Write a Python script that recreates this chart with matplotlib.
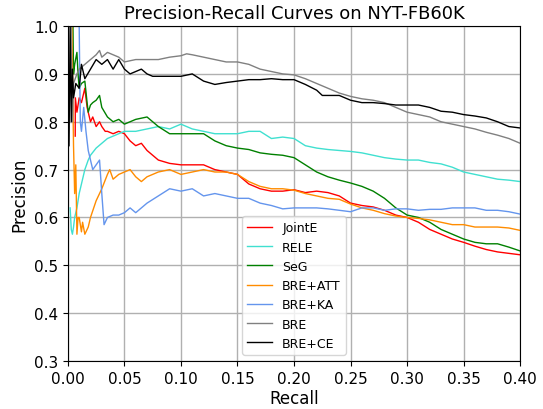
import matplotlib
matplotlib.use('Agg')
import matplotlib.pyplot as plt

# Valores (recall, precision)
recall_jointe = [0.0065, 0.0066, 0.008, 0.010, 0.012, 0.015, 0.017, 0.018, 0.020, 0.022, 0.025, 0.028, 0.030,
                 0.033, 0.035, 0.040, 0.045, 0.050, 0.055, 0.060, 0.065, 0.070, 0.075, 0.080, 0.090, 0.100,
                 0.110, 0.120, 0.130, 0.140, 0.150, 0.160, 0.170, 0.180, 0.190, 0.200, 0.210, 0.220, 0.230,
                 0.240, 0.250, 0.260, 0.270, 0.280, 0.290, 0.300, 0.310, 0.320, 0.330, 0.340, 0.350, 0.360,
                 0.370, 0.380, 0.390, 0.400]
prec_jointe = [0.77, 0.85, 0.82, 0.85, 0.84, 0.87, 0.83, 0.82, 0.80, 0.81, 0.79, 0.80, 0.79,
               0.78, 0.78, 0.775, 0.78, 0.775, 0.76, 0.75, 0.755, 0.74, 0.73, 0.72, 0.713, 0.71,
               0.71, 0.71, 0.70, 0.695, 0.69, 0.67, 0.66, 0.655, 0.655, 0.658, 0.652, 0.655, 0.652,
               0.645, 0.63, 0.625, 0.622, 0.615, 0.605, 0.60, 0.59, 0.575, 0.565, 0.555, 0.548, 0.54,
               0.533, 0.528, 0.525, 0.522]

recall_rele = [0.002, 0.003, 0.004, 0.005, 0.006, 0.008, 0.010, 0.012, 0.015, 0.018, 0.020, 0.025, 0.030,
               0.035, 0.040, 0.045, 0.050, 0.060, 0.070, 0.080, 0.090, 0.100, 0.110, 0.120, 0.130, 0.140,
               0.150, 0.160, 0.170, 0.180, 0.190, 0.200, 0.210, 0.220, 0.230, 0.240, 0.250, 0.260, 0.270,
               0.280, 0.290, 0.300, 0.310, 0.320, 0.330, 0.340, 0.350, 0.360, 0.370, 0.380, 0.390, 0.400]
prec_rele = [0.62, 0.575, 0.565, 0.58, 0.60, 0.62, 0.65, 0.67, 0.70, 0.72, 0.73, 0.745, 0.755,
             0.765, 0.77, 0.775, 0.78, 0.78, 0.785, 0.79, 0.785, 0.795, 0.785, 0.78, 0.775, 0.775,
             0.775, 0.78, 0.78, 0.765, 0.768, 0.765, 0.75, 0.745, 0.742, 0.74, 0.738, 0.735, 0.73,
             0.725, 0.722, 0.72, 0.72, 0.715, 0.712, 0.705, 0.695, 0.69, 0.685, 0.68, 0.678, 0.675]

recall_seg = [0.0045, 0.005, 0.006, 0.008, 0.009, 0.010, 0.012, 0.015, 0.017, 0.018, 0.020, 0.022, 0.025,
              0.028, 0.030, 0.035, 0.040, 0.045, 0.050, 0.060, 0.070, 0.075, 0.080, 0.090, 0.100, 0.110,
              0.120, 0.130, 0.140, 0.150, 0.160, 0.170, 0.180, 0.190, 0.200, 0.210, 0.220, 0.230, 0.240,
              0.250, 0.260, 0.270, 0.280, 0.290, 0.300, 0.310, 0.320, 0.330, 0.340, 0.350, 0.360, 0.370,
              0.380, 0.390, 0.400]
prec_seg = [1.0, 0.90, 0.92, 0.945, 0.90, 0.87, 0.88, 0.885, 0.84, 0.82, 0.835, 0.84, 0.845,
            0.855, 0.83, 0.81, 0.80, 0.805, 0.795, 0.805, 0.81, 0.80, 0.79, 0.775, 0.775, 0.775,
            0.775, 0.76, 0.75, 0.745, 0.742, 0.735, 0.732, 0.73, 0.725, 0.71, 0.695, 0.685, 0.678,
            0.672, 0.665, 0.655, 0.64, 0.62, 0.605, 0.60, 0.59, 0.575, 0.565, 0.555, 0.548, 0.545,
            0.545, 0.538, 0.53]

recall_att = [0.0035, 0.005, 0.006, 0.007, 0.008, 0.009, 0.010, 0.012, 0.013, 0.015, 0.018, 0.020, 0.025,
              0.030, 0.035, 0.037, 0.040, 0.045, 0.050, 0.055, 0.060, 0.065, 0.070, 0.080, 0.090, 0.100,
              0.110, 0.120, 0.130, 0.140, 0.150, 0.160, 0.170, 0.180, 0.190, 0.200, 0.210, 0.220, 0.230,
              0.240, 0.250, 0.260, 0.270, 0.280, 0.290, 0.300, 0.310, 0.320, 0.330, 0.340, 0.350, 0.360,
              0.370, 0.380, 0.390, 0.400]
prec_att = [1.0, 0.75, 0.65, 0.71, 0.565, 0.60, 0.60, 0.57, 0.59, 0.565, 0.58, 0.60, 0.635,
            0.66, 0.69, 0.70, 0.68, 0.69, 0.695, 0.70, 0.685, 0.675, 0.685, 0.695, 0.70, 0.69,
            0.695, 0.70, 0.695, 0.695, 0.69, 0.675, 0.665, 0.66, 0.66, 0.657, 0.65, 0.645, 0.64,
            0.638, 0.628, 0.62, 0.615, 0.608, 0.603, 0.60, 0.598, 0.595, 0.59, 0.585, 0.585, 0.58,
            0.58, 0.58, 0.578, 0.573]

recall_ka = [0.010, 0.011, 0.012, 0.014, 0.016, 0.018, 0.020, 0.022, 0.025, 0.028, 0.030, 0.032, 0.035,
             0.040, 0.045, 0.050, 0.055, 0.060, 0.070, 0.080, 0.090, 0.100, 0.110, 0.120, 0.130, 0.140,
             0.150, 0.160, 0.170, 0.180, 0.190, 0.200, 0.210, 0.220, 0.230, 0.240, 0.250, 0.260, 0.270,
             0.280, 0.290, 0.300, 0.310, 0.320, 0.330, 0.340, 0.350, 0.360, 0.370, 0.380, 0.390, 0.400]
prec_ka = [1.0, 0.80, 0.78, 0.83, 0.78, 0.74, 0.72, 0.70, 0.71, 0.72, 0.65, 0.585, 0.60,
           0.605, 0.605, 0.61, 0.62, 0.61, 0.63, 0.645, 0.66, 0.655, 0.66, 0.645, 0.65, 0.645,
           0.64, 0.64, 0.63, 0.625, 0.618, 0.62, 0.62, 0.62, 0.618, 0.615, 0.612, 0.62, 0.62,
           0.615, 0.618, 0.618, 0.615, 0.617, 0.617, 0.62, 0.62, 0.62, 0.615, 0.615, 0.612, 0.607]

recall_bre = [0.003, 0.004, 0.005, 0.008, 0.010, 0.015, 0.020, 0.025, 0.028, 0.030, 0.035, 0.040, 0.045,
              0.050, 0.060, 0.070, 0.080, 0.090, 0.100, 0.105, 0.110, 0.120, 0.130, 0.140, 0.150, 0.160,
              0.170, 0.180, 0.190, 0.200, 0.210, 0.220, 0.230, 0.240, 0.250, 0.260, 0.270, 0.280, 0.290,
              0.300, 0.310, 0.320, 0.330, 0.340, 0.350, 0.360, 0.370, 0.380, 0.390, 0.400]
prec_bre = [1.0, 0.80, 0.88, 0.90, 0.91, 0.92, 0.93, 0.94, 0.949, 0.935, 0.945, 0.94, 0.935,
            0.925, 0.93, 0.93, 0.93, 0.935, 0.938, 0.942, 0.94, 0.935, 0.93, 0.925, 0.925, 0.92,
            0.91, 0.905, 0.90, 0.898, 0.89, 0.88, 0.87, 0.86, 0.853, 0.848, 0.845, 0.84, 0.83,
            0.82, 0.815, 0.81, 0.80, 0.795, 0.79, 0.785, 0.778, 0.772, 0.765, 0.755]

recall_ce = [0.001, 0.002, 0.003, 0.004, 0.005, 0.007, 0.010, 0.012, 0.015, 0.020, 0.025, 0.030, 0.035,
             0.040, 0.045, 0.050, 0.055, 0.060, 0.065, 0.070, 0.075, 0.080, 0.090, 0.100, 0.110, 0.120,
             0.130, 0.140, 0.150, 0.160, 0.170, 0.180, 0.190, 0.200, 0.210, 0.220, 0.225, 0.230, 0.240,
             0.250, 0.260, 0.270, 0.280, 0.290, 0.300, 0.310, 0.320, 0.330, 0.340, 0.350, 0.360, 0.370,
             0.380, 0.390, 0.400]
prec_ce = [0.75, 1.0, 0.80, 0.91, 0.85, 0.88, 0.87, 0.92, 0.89, 0.91, 0.93, 0.92, 0.93,
           0.91, 0.93, 0.91, 0.90, 0.905, 0.91, 0.90, 0.895, 0.895, 0.895, 0.895, 0.90, 0.885,
           0.878, 0.882, 0.885, 0.888, 0.888, 0.89, 0.888, 0.888, 0.878, 0.866, 0.855, 0.855, 0.855,
           0.845, 0.84, 0.84, 0.838, 0.835, 0.835, 0.835, 0.83, 0.822, 0.82, 0.815, 0.812, 0.808,
           0.80, 0.79, 0.787]

series = [
    ('JointE', recall_jointe, prec_jointe, 'red'),
    ('RELE', recall_rele, prec_rele, 'turquoise'),
    ('SeG', recall_seg, prec_seg, 'green'),
    ('BRE+ATT', recall_att, prec_att, 'darkorange'),
    ('BRE+KA', recall_ka, prec_ka, 'cornflowerblue'),
    ('BRE', recall_bre, prec_bre, 'gray'),
    ('BRE+CE', recall_ce, prec_ce, 'black'),
]

fig = plt.figure(figsize=(5.43, 4.10), dpi=100)
ax = fig.add_axes([0.125, 0.117, 0.833, 0.817])

for nombre, r, p, color in series:
    ax.plot(r, p, color=color, lw=1, label=nombre)

ax.set_xlim(0.0, 0.4)
ax.set_ylim(0.3, 1.0)
ax.set_title('Precision-Recall Curves on NYT-FB60K', fontsize=13)
ax.set_xlabel('Recall', fontsize=12, labelpad=2)
ax.set_ylabel('Precision', fontsize=12)
ax.tick_params(labelsize=11)
ax.grid(True, color='#b0b0b0', lw=1)
ax.legend(loc='lower center', fontsize=9)

fig.savefig('out.png', dpi=100)
